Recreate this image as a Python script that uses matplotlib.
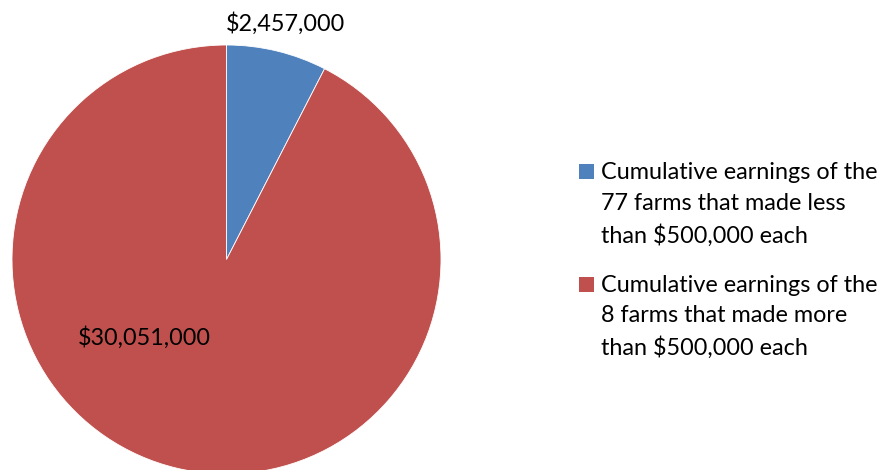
import matplotlib.pyplot as plt
import numpy as np

# data
earnings = [2457000, 30051000]
labels = ["Cumulative earnings of the\n77 farms that made less\nthan $500,000 each",
          "Cumulative earnings of the\n8 farms that made more\nthan $500,000 each"]
colors = ["#4F81BD", "#C0504D"]

plt.rcParams['font.family'] = ['Lato', 'DejaVu Sans']

W, H = 896, 470
fig = plt.figure(figsize=(W / 100, H / 100), dpi=100)

cx, cy, r = 226.5, 259.5, 214.5
ax = fig.add_axes([(cx - r) / W, (H - cy - r) / H, 2 * r / W, 2 * r / H])

wedges, _ = ax.pie(earnings, colors=colors, startangle=90, counterclock=False,
                   radius=1, wedgeprops=dict(edgecolor='white', linewidth=0.6))
ax.set_xlim(-1, 1)
ax.set_ylim(-1, 1)
ax.set_aspect('equal')

fs = 16.8
# value labels
total = sum(earnings)
ang = np.deg2rad(90 - 360 * earnings[0] / total / 2)
ax.text(1.13 * np.cos(ang) + 0.01, 1.13 * np.sin(ang), "${:,}".format(earnings[0]),
        ha='center', va='center', fontsize=fs, color='#000000')
ax.text(-0.385, -0.365, "${:,}".format(earnings[1]),
        ha='center', va='center', fontsize=fs, color='#000000')

# legend (squares aligned with first line of each entry)
for i, (w, lab) in enumerate(zip(wedges, labels)):
    top = 162 + i * 112.5
    fig.patches.append(plt.Rectangle((579 / W, 1 - (top + 17) / H), 15 / W, 15 / H,
                                     transform=fig.transFigure,
                                     facecolor=w.get_facecolor(), edgecolor='none'))
    fig.text(601 / W, 1 - top / H, lab, ha='left', va='top', fontsize=fs,
             linespacing=1.56, color='#000000')

fig.savefig("out.png", dpi=100)
